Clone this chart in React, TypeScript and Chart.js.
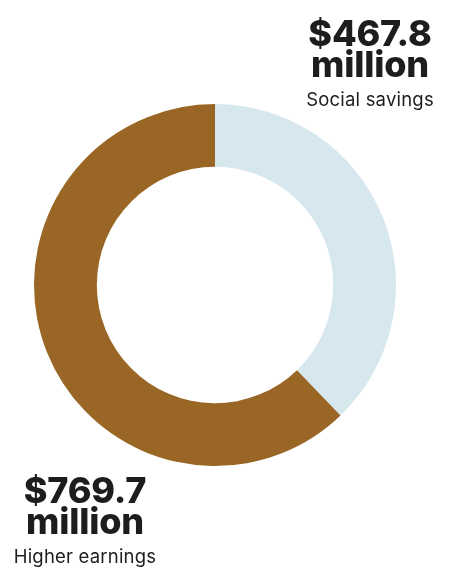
import React, { useEffect, useRef } from "react";
import { Chart, registerables } from "chart.js";

Chart.register(...registerables);

const categories = ["Social savings", "Higher earnings"];
const values = [467.8, 769.7];
const valueLabels = ["$467.8", "$769.7"];
const colors = ["#d7e7ee", "#996626"];

export default function App() {
  const ref = useRef<HTMLCanvasElement | null>(null);

  useEffect(() => {
    document.body.style.margin = "0";
    const chart = new Chart(ref.current!, {
      type: "doughnut",
      data: {
        labels: categories,
        datasets: [
          {
            data: values,
            backgroundColor: colors,
            borderWidth: 0,
          },
        ],
      },
      options: {
        animation: false,
        responsive: false,
        cutout: "65.3%",
        rotation: 0,
        layout: { padding: { left: 34, right: 53, top: 104, bottom: 106 } },
        plugins: { legend: { display: false }, tooltip: { enabled: false } },
      },
    });
    return () => chart.destroy();
  }, []);

  const bigStyle: React.CSSProperties = {
    fontFamily: "Inter, 'Noto Sans', sans-serif",
    fontWeight: 800,
    fontSize: 36,
    lineHeight: "31px",
    color: "#1f1c1d",
    letterSpacing: "-0.2px",
  };
  const smallStyle: React.CSSProperties = {
    fontFamily: "Inter, 'Noto Sans', sans-serif",
    fontWeight: 400,
    fontSize: 18.5,
    lineHeight: "22px",
    color: "#1f1c1d",
    letterSpacing: "0.2px",
    marginTop: 8,
  };

  return (
    <div style={{ position: "relative", width: 449, height: 572, background: "#fff", overflow: "hidden" }}>
      <canvas ref={ref} width={449} height={572} style={{ position: "absolute", left: 0, top: 0 }} />
      <div style={{ position: "absolute", left: 270, width: 200, top: 18, textAlign: "center" }}>
        <div style={bigStyle}>{valueLabels[0]}</div>
        <div style={bigStyle}>million</div>
        <div style={smallStyle}>{categories[0]}</div>
      </div>
      <div style={{ position: "absolute", left: -15, width: 200, top: 475, textAlign: "center" }}>
        <div style={bigStyle}>{valueLabels[1]}</div>
        <div style={bigStyle}>million</div>
        <div style={smallStyle}>{categories[1]}</div>
      </div>
    </div>
  );
}
